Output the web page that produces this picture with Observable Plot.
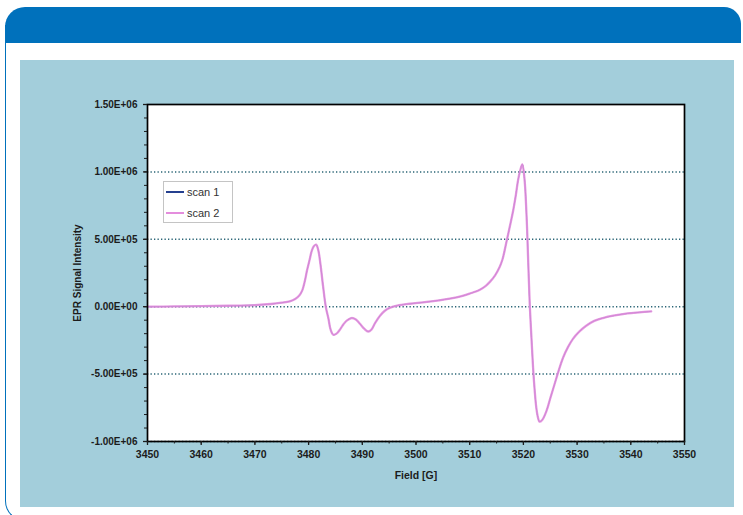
<!DOCTYPE html>
<html>
<head>
<meta charset="utf-8">
<script src="https://cdn.jsdelivr.net/npm/d3@7"></script>
<script src="https://cdn.jsdelivr.net/npm/@observablehq/plot@0.6"></script>
<style>
  html, body { margin: 0; padding: 0; width: 743px; height: 515px; overflow: hidden; background: #fff; font-family: "Liberation Sans", Arial, sans-serif; }
  #outline { position: absolute; left: 5px; top: 25px; width: 800px; height: 495px; border-left: 1.5px solid #0071bc; border-bottom: 1.5px solid #0071bc; border-bottom-left-radius: 20px; }
  #band { position: absolute; left: 5px; top: 7px; width: 736px; height: 36px; background: #0071bc; border-radius: 20px 17px 0 0; }
  #panel { position: absolute; left: 20px; top: 60px; width: 714px; height: 447px; background: #a3cedb; }
  #chart { position: absolute; left: 0; top: 0; }
  #legend { position: absolute; left: 163px; top: 181px; width: 70px; height: 42px; box-sizing: border-box; border: 1px solid #c4c4c4; background: #fff; font-size: 11px; color: #333; }
  .item { position: absolute; left: 2px; height: 14px; display: flex; align-items: center; }
  .sw { width: 18px; height: 0; margin-right: 3px; }
</style>
</head>
<body>
<div id="outline"></div>
<div id="band"></div>
<div id="panel"></div>
<div id="chart"></div>
<div id="legend"></div>
<script>
// Field values [G]
const field = [3450, 3455, 3460, 3465, 3470, 3473, 3475, 3476.5, 3477.5, 3478.3, 3478.8, 3479.3, 3479.7, 3480.2, 3480.6, 3481.0, 3481.4, 3481.8, 3482.2, 3482.7, 3483.2, 3483.7, 3484.1, 3484.6, 3485.2, 3485.9, 3486.5, 3487.1, 3488.0, 3488.8, 3489.6, 3490.4, 3491.1, 3491.7, 3492.4, 3493.3, 3494.2, 3495.2, 3496.5, 3498.9, 3502, 3506.3, 3508.5, 3510, 3511.9, 3513.0, 3513.8, 3514.7, 3515.6, 3516.1, 3516.5, 3516.9, 3517.5, 3518.1, 3518.6, 3519.0, 3519.4, 3519.8, 3520.2, 3520.6, 3520.9, 3521.2, 3521.5, 3521.8, 3522.1, 3522.4, 3522.7, 3523.0, 3523.5, 3524.3, 3525.0, 3525.8, 3526.6, 3527.4, 3528.3, 3529.2, 3530.4, 3531.7, 3533.2, 3534.8, 3537, 3539.4, 3541.6, 3543.8];
// EPR signal intensity, scan 1
const scan1 = [0, 2000, 4000, 7000, 12000, 20000, 30000, 40000, 57000, 85000, 119000, 190000, 268000, 350000, 416000, 450000, 461000, 420000, 317000, 150000, 0, -90000, -170000, -208000, -200000, -166000, -130000, -104000, -84000, -95000, -129000, -165000, -184000, -170000, -120000, -67000, -30000, -7000, 8000, 22000, 35000, 60000, 78000, 97000, 126000, 155000, 186000, 231000, 297000, 350000, 416000, 491000, 600000, 714000, 830000, 937000, 1010000, 1056000, 950000, 664000, 330000, 0, -230000, -451000, -620000, -749000, -820000, -853000, -840000, -773000, -680000, -575000, -470000, -377000, -300000, -240000, -185000, -141000, -105000, -84000, -65000, -50000, -42000, -35000];
// EPR signal intensity, scan 2
const scan2 = [0, 2000, 4000, 7000, 12000, 20000, 30000, 40000, 57000, 85000, 119000, 190000, 268000, 350000, 416000, 450000, 461000, 420000, 317000, 150000, 0, -90000, -170000, -208000, -200000, -166000, -130000, -104000, -84000, -95000, -129000, -165000, -184000, -170000, -120000, -67000, -30000, -7000, 8000, 22000, 35000, 60000, 78000, 97000, 126000, 155000, 186000, 231000, 297000, 350000, 416000, 491000, 600000, 714000, 830000, 937000, 1010000, 1056000, 950000, 664000, 330000, 0, -230000, -451000, -620000, -749000, -820000, -853000, -840000, -773000, -680000, -575000, -470000, -377000, -300000, -240000, -185000, -141000, -105000, -84000, -65000, -50000, -42000, -35000];

const seriesNames = ["scan 1", "scan 2"];
const seriesColors = ["#25408f", "#e48ddd"];
const yTicks = [-1000000, -500000, 0, 500000, 1000000, 1500000];
const gridY = [-1000000, -500000, 0, 500000, 1000000];
const xTicks = [3450, 3460, 3470, 3480, 3490, 3500, 3510, 3520, 3530, 3540, 3550];
const yMinor = d3.range(-1000000, 1500001, 100000);
const xMinor = d3.range(3450, 3551, 5);
const yLabel = "EPR Signal Intensity";
const xLabel = "Field [G]";

const rows1 = field.map((f, i) => ({field: f, value: scan1[i]}));
const rows2 = field.map((f, i) => ({field: f, value: scan2[i]}));

function sci(d) {
  const [m, e] = d.toExponential(2).split("e");
  const n = +e;
  return m + "E" + (n < 0 ? "-" : "+") + String(Math.abs(n)).padStart(2, "0");
}

const chart = Plot.plot({
  width: 743,
  height: 515,
  marginLeft: 147,
  marginRight: 59,
  marginTop: 104,
  marginBottom: 74,
  style: {background: "transparent", fontFamily: "'Liberation Sans', Arial, sans-serif", color: "#1c1c1c", overflow: "visible"},
  x: {domain: [3450, 3550], label: null},
  y: {domain: [-1000000, 1500000], label: null},
  marks: [
    Plot.frame({fill: "white", stroke: "none"}),
    Plot.ruleY(gridY, {stroke: "#2a6576", strokeDasharray: "1.3,2.2", strokeWidth: 1.5}),
    Plot.line(rows1, {x: "field", y: "value", stroke: seriesColors[0], strokeWidth: 0.9, curve: "catmull-rom"}),
    Plot.line(rows2, {x: "field", y: "value", stroke: seriesColors[1], strokeWidth: 2.3, strokeOpacity: 0.88, curve: "catmull-rom"}),
    Plot.frame({stroke: "#000", strokeWidth: 1.7}),
    Plot.axisY(yTicks, {tickSize: 4, tickPadding: 6, tickFormat: sci, fontWeight: "bold", fontSize: 10, label: null, strokeWidth: 1.3}),
    Plot.axisY(yMinor, {tickSize: 3, tickFormat: () => "", label: null}),
    Plot.axisX(xTicks, {tickSize: 4, tickPadding: 5, tickFormat: d => String(d), fontWeight: "bold", fontSize: 10.5, label: null, strokeWidth: 1.3}),
    Plot.axisX(xMinor, {tickSize: 2.5, tickFormat: () => "", label: null}),
    Plot.text([yLabel], {frameAnchor: "left", textAnchor: "middle", dx: -70, rotate: -90, fontWeight: "bold", fontSize: 10}),
    Plot.text([xLabel], {frameAnchor: "bottom", dy: 37, fontWeight: "bold", fontSize: 10.5})
  ]
});
document.getElementById("chart").appendChild(chart);

const legend = document.getElementById("legend");
seriesNames.forEach((name, i) => {
  const item = document.createElement("div");
  item.className = "item";
  item.style.top = (3 + i * 21) + "px";
  const sw = document.createElement("span");
  sw.className = "sw";
  sw.style.borderTop = "2px solid " + seriesColors[i];
  const t = document.createElement("span");
  t.textContent = name;
  item.appendChild(sw);
  item.appendChild(t);
  legend.appendChild(item);
});
</script>
</body>
</html>
